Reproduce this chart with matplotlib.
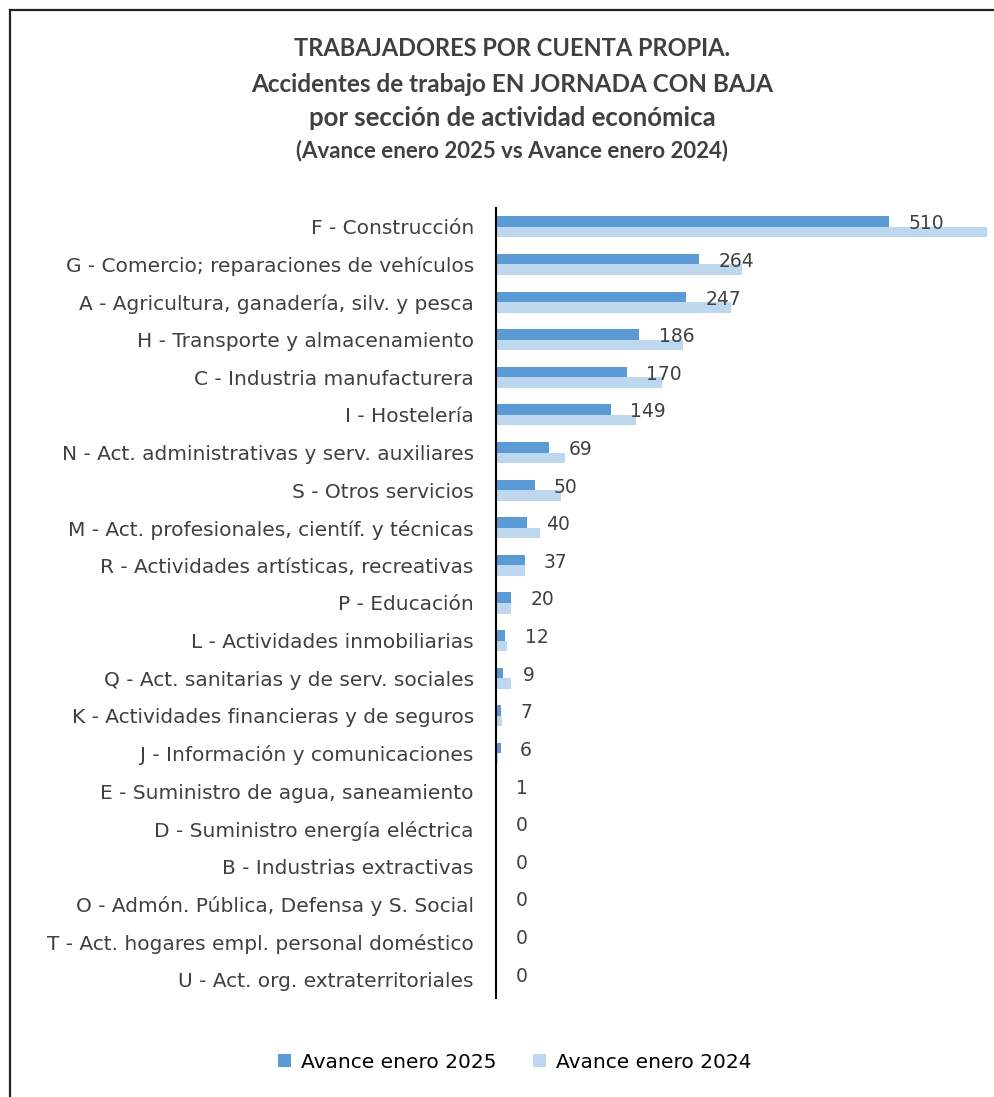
import numpy as np
import matplotlib.pyplot as plt
from matplotlib.lines import Line2D

plt.rcParams['font.family'] = ['DejaVu Sans']

categories = [
    "F - Construcción",
    "G - Comercio; reparaciones de vehículos",
    "A - Agricultura, ganadería, silv. y pesca",
    "H - Transporte y almacenamiento",
    "C - Industria manufacturera",
    "I - Hostelería",
    "N - Act. administrativas y serv. auxiliares",
    "S - Otros servicios",
    "M - Act. profesionales, científ. y técnicas",
    "R - Actividades artísticas, recreativas",
    "P - Educación",
    "L - Actividades inmobiliarias",
    "Q - Act. sanitarias y de serv. sociales",
    "K - Actividades financieras y de seguros",
    "J - Información y comunicaciones",
    "E - Suministro de agua, saneamiento",
    "D - Suministro energía eléctrica",
    "B - Industrias extractivas",
    "O - Admón. Pública, Defensa y S. Social",
    "T - Act. hogares empl. personal doméstico",
    "U - Act. org. extraterritoriales",
]
avance_2025 = [510, 264, 247, 186, 170, 149, 69, 50, 40, 37, 20, 12, 9, 7, 6, 1, 0, 0, 0, 0, 0]
avance_2024 = [638, 319, 305, 243, 215, 182, 90, 84, 57, 37, 20, 14, 20, 8, 2, 0, 0, 0, 0, 0, 0]

c2025 = '#5b9bd5'
c2024 = '#bdd7ee'
txt = '#404040'

W, H = 995, 1097
fig = plt.figure(figsize=(W / 100, H / 100), dpi=100)

# axes placed in pixel coordinates
x0, x1 = 496, 989
y0, y1 = 208, 998
ax = fig.add_axes([x0 / W, 1 - y1 / H, (x1 - x0) / W, (y1 - y0) / H])

y = np.arange(len(categories))
bh = 0.28
ax.barh(y - bh / 2, avance_2025, height=bh, color=c2025, label='Avance enero 2025')
ax.barh(y + bh / 2, avance_2024, height=bh, color=c2024, label='Avance enero 2024')

for yi, v in zip(y, avance_2025):
    ax.annotate(str(v), (v, yi - 0.08), xytext=(14, 0), textcoords='offset points',
                ha='left', va='center', fontsize=13.5, color=txt)

ax.set_xlim(0, 640)
ax.set_ylim(len(categories) - 0.5, -0.5)
ax.set_yticks(y)
ax.set_yticklabels(categories, fontsize=14.5, color=txt)
ax.tick_params(axis='y', length=0, pad=16)
ax.set_xticks([])
for s in ['top', 'right', 'bottom']:
    ax.spines[s].set_visible(False)
ax.spines['left'].set_linewidth(1.5)
ax.spines['left'].set_color('black')

# titles
title_lines = [
    ("TRABAJADORES POR CUENTA PROPIA.", 17, 48),
    ("Accidentes de trabajo EN JORNADA CON BAJA", 17.5, 85),
    ("por sección de actividad económica", 18.5, 118),
    ("(Avance enero 2025 vs Avance enero 2024)", 16, 151),
]
for t, fs, yp in title_lines:
    fig.text(512 / W, 1 - yp / H, t, ha='center', va='center', fontsize=fs,
             fontweight='bold', color=txt, family=['Lato', 'DejaVu Sans'])

# chart border
fig.add_artist(Line2D([10 / W, 1], [1 - 10 / H, 1 - 10 / H], color='#222222', lw=1.6))
fig.add_artist(Line2D([10 / W, 10 / W], [0, 1 - 10 / H], color='#222222', lw=1.6))

fig.legend(loc='center', bbox_to_anchor=(515 / W, 1 - 1062 / H), ncol=2, frameon=False,
           fontsize=14.5, handlelength=0.65, handleheight=0.65, columnspacing=1.8,
           handletextpad=0.5, labelcolor='black')

fig.savefig('out.png', dpi=100)
